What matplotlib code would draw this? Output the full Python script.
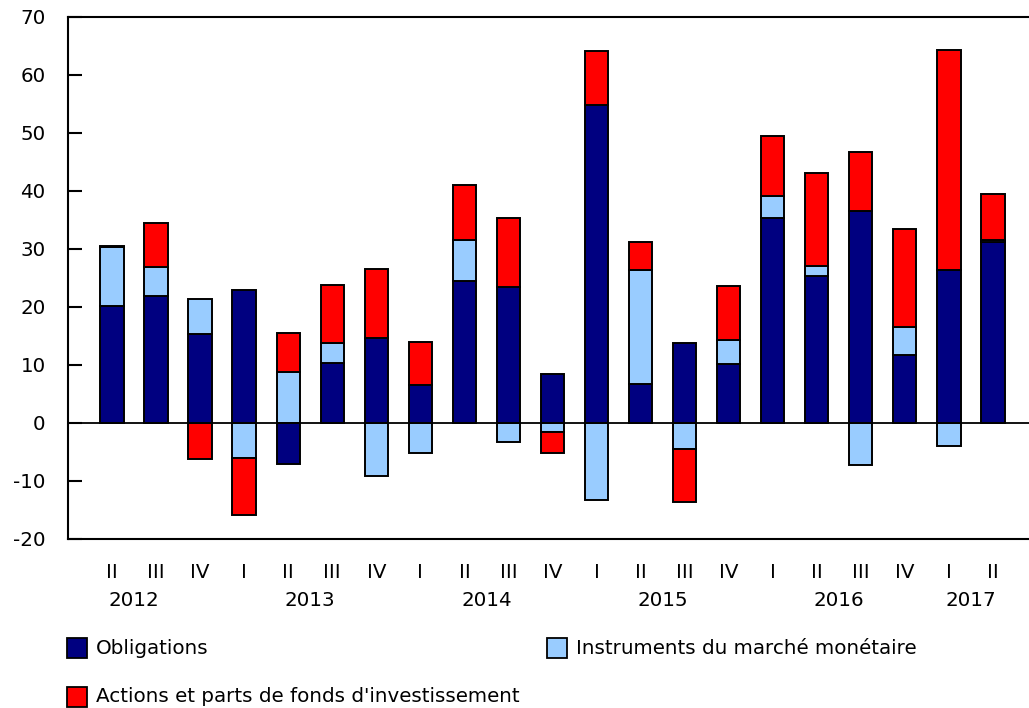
import matplotlib
matplotlib.use("Agg")
import matplotlib.pyplot as plt
import numpy as np
from matplotlib.patches import Rectangle

plt.rcParams["axes.unicode_minus"] = False

quarters = ["II", "III", "IV", "I", "II", "III", "IV", "I", "II", "III", "IV",
            "I", "II", "III", "IV", "I", "II", "III", "IV", "I", "II"]
years = ["2012", "2013", "2014", "2015", "2016", "2017"]
year_pos = [0.5, 4.5, 8.5, 12.5, 16.5, 19.5]

obligations = [20.1, 21.9, 15.4, 22.9, -7.0, 10.3, 14.6, 6.5, 24.4, 23.5, 8.5,
               54.8, 6.7, 13.8, 10.2, 35.3, 25.4, 36.6, 11.7, 26.3, 31.2]
monetaire = [10.3, 5.0, 5.9, -6.0, 8.8, 3.5, -9.1, -5.2, 7.1, -3.3, -1.5,
             -13.2, 19.6, -4.4, 4.1, 3.8, 1.7, -7.2, 4.9, -4.0, 0.3]
actions = [0.2, 7.5, -6.2, -9.9, 6.7, 10.0, 12.0, 7.5, 9.5, 11.9, -3.7,
           9.4, 4.9, -9.3, 9.4, 10.3, 16.0, 10.2, 16.9, 38.0, 7.9]

series = [("Obligations", obligations, "#000080"),
          ("Instruments du marché monétaire", monetaire, "#99ccff"),
          ("Actions et parts de fonds d'investissement", actions, "#ff0000")]

fs = 14.3
fig = plt.figure(figsize=(10.29, 7.08), dpi=100)
ax = fig.add_axes([68 / 1029, 1 - 539 / 708, 1 - 68 / 1029, (539 - 17) / 708])

x = np.arange(len(quarters))
pos_base = np.zeros(len(x))
neg_base = np.zeros(len(x))
for name, vals, col in series:
    v = np.array(vals)
    bottom = np.where(v >= 0, pos_base, neg_base)
    ax.bar(x, v, 0.53, bottom=bottom, color=col, edgecolor="black", linewidth=1.4, zorder=2)
    pos_base = pos_base + np.where(v >= 0, v, 0)
    neg_base = neg_base + np.where(v < 0, v, 0)

ax.axhline(0, color="black", linewidth=1.3, zorder=3)
ax.set_xlim(-1, 20.82)
ax.set_ylim(-20, 70)
ax.set_yticks(np.arange(-20, 71, 10))
ax.tick_params(axis="y", direction="in", length=10, width=1.5, pad=16, labelsize=fs)
ax.set_xticks([])
for s in ["left", "top", "bottom"]:
    ax.spines[s].set_linewidth(1.5)
ax.spines["right"].set_visible(False)

tr = ax.get_xaxis_transform()
for i, q in enumerate(quarters):
    ax.text(i, -33 / 522, q, transform=tr, ha="center", va="center", fontsize=fs)
for p, y in zip(year_pos, years):
    ax.text(p, -61 / 522, y, transform=tr, ha="center", va="center", fontsize=fs)

# legend drawn by hand
leg = [(67, 648, series[0]), (547, 648, series[1]), (67, 697, series[2])]
for px, py, (name, _, col) in leg:
    fig.patches.append(Rectangle((px / 1029, 1 - (py + 10) / 708), 20 / 1029, 20 / 708,
                                 transform=fig.transFigure, facecolor=col,
                                 edgecolor="black", linewidth=1.3))
    fig.text((px + 29) / 1029, 1 - py / 708, name, ha="left", va="center", fontsize=fs)

fig.savefig("out.png", dpi=100)
